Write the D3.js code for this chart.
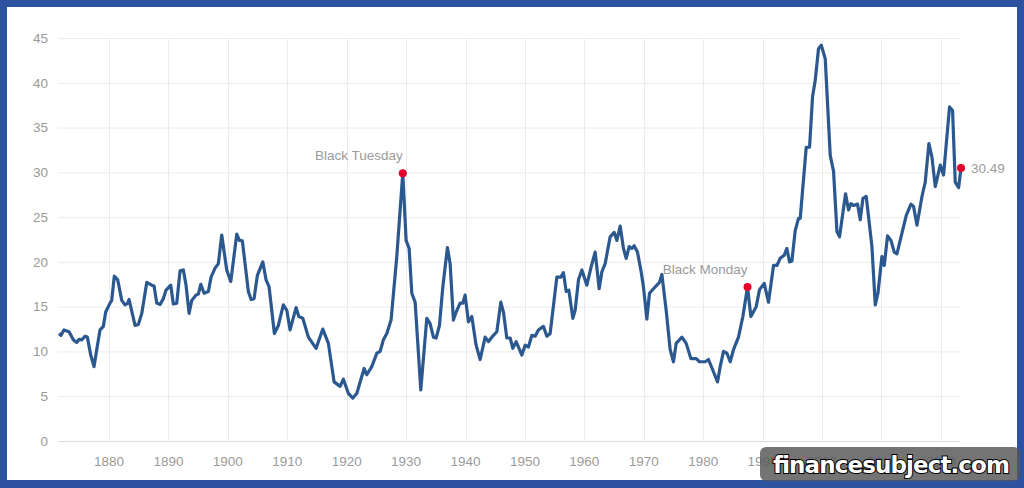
<!DOCTYPE html>
<html>
<head>
<meta charset="utf-8">
<script src="https://cdn.jsdelivr.net/npm/d3@7"></script>
<style>
  body { margin: 0; background: #2c52a0; }
  svg { display: block; }
</style>
</head>
<body>
<div id="chart"></div>
<script>
// Data
var years = [1871.58,1871.92,1872.42,1873.27,1873.99,1874.56,1874.95,1875.40,1875.96,1876.35,1876.92,1877.47,1877.93,1878.48,1879.04,1879.44,1880.17,1880.45,1880.89,1881.46,1882.14,1882.69,1883.15,1883.37,1884.38,1884.93,1885.51,1886.35,1887.19,1887.58,1888.03,1888.59,1889.14,1889.60,1890.39,1890.82,1891.40,1891.95,1892.51,1892.96,1893.47,1893.92,1894.65,1895.03,1895.44,1895.99,1896.72,1897.17,1897.85,1898.40,1898.97,1899.81,1900.49,1901.50,1901.94,1902.44,1903.45,1903.91,1904.41,1904.97,1905.88,1906.43,1906.94,1907.83,1908.50,1909.34,1909.92,1910.47,1911.48,1911.94,1912.61,1913.55,1914.85,1915.98,1916.92,1917.88,1918.89,1919.44,1920.29,1921.03,1921.70,1922.93,1923.38,1924.22,1925.07,1925.62,1926.18,1926.75,1927.47,1928.43,1929.44,1930.00,1930.51,1930.96,1931.52,1932.47,1933.48,1934.04,1934.60,1935.05,1935.61,1936.18,1936.95,1937.41,1937.96,1938.42,1939.09,1939.55,1939.93,1940.49,1941.06,1941.78,1942.46,1943.30,1943.86,1944.70,1945.27,1945.94,1946.38,1946.95,1947.51,1947.96,1948.52,1949.48,1950.03,1950.59,1951.16,1951.72,1952.27,1953.11,1953.69,1954.24,1955.37,1956.04,1956.48,1956.94,1957.39,1958.06,1958.45,1959.01,1959.58,1960.42,1961.09,1961.82,1962.49,1962.95,1963.50,1964.34,1965.02,1965.47,1966.03,1966.58,1967.04,1967.54,1967.99,1968.38,1968.94,1969.56,1969.95,1970.52,1970.96,1971.63,1972.21,1972.64,1973.05,1973.77,1974.44,1975.00,1975.45,1976.41,1977.14,1977.93,1978.82,1979.38,1980.34,1980.89,1981.63,1982.41,1982.86,1983.42,1983.99,1984.55,1985.10,1985.94,1986.68,1987.46,1988.03,1988.92,1989.48,1990.27,1990.99,1991.84,1992.41,1992.96,1993.64,1994.09,1994.53,1994.93,1995.49,1996.04,1996.33,1997.34,1997.90,1998.40,1998.86,1999.41,1999.87,2000.54,2001.38,2001.94,2002.51,2002.95,2003.96,2004.46,2004.87,2005.30,2005.98,2006.43,2006.89,2007.44,2008.40,2008.96,2009.41,2010.08,2010.47,2011.03,2011.60,2012.15,2012.61,2013.45,2014.18,2014.97,2015.40,2015.98,2016.82,2017.37,2017.99,2018.50,2019.06,2019.90,2020.45,2021.46,2021.97,2022.42,2022.99,2023.39];
var cape = [12.0,11.8,12.4,12.2,11.3,11.0,11.35,11.3,11.7,11.6,9.6,8.3,10.2,12.4,12.8,14.4,15.4,15.7,18.4,18.0,15.7,15.2,15.4,15.8,12.9,13.0,14.25,17.7,17.4,17.3,15.4,15.25,15.9,16.85,17.4,15.3,15.4,19.0,19.1,17.4,14.25,15.7,16.3,16.4,17.5,16.5,16.7,18.3,19.3,19.8,23.0,19.1,17.8,23.1,22.4,22.35,16.7,15.8,15.9,18.5,20.0,18.0,17.2,12.0,12.9,15.2,14.6,12.4,14.9,13.9,13.7,11.6,10.35,12.5,10.9,6.6,6.1,6.9,5.3,4.8,5.3,8.1,7.4,8.3,9.8,10.0,11.3,12.0,13.5,20.6,29.9,22.4,21.5,16.5,15.5,5.7,13.7,13.1,11.6,11.5,12.9,17.2,21.6,19.8,13.5,14.4,15.4,15.4,16.3,13.3,13.9,10.7,9.1,11.6,11.1,11.8,12.2,15.5,14.4,11.5,11.5,10.35,11.1,9.6,10.7,10.5,11.8,11.7,12.4,12.8,11.7,12.0,18.3,18.3,18.8,16.7,16.85,13.7,14.6,18.0,19.1,17.4,19.3,21.1,17.0,18.9,19.8,22.8,23.3,22.4,24.0,21.5,20.4,21.7,21.5,21.8,21.1,18.9,17.2,13.6,16.5,17.0,17.4,17.7,18.6,14.6,10.2,8.85,10.9,11.6,10.9,9.2,9.2,8.85,8.85,9.1,7.9,6.6,8.3,10.0,9.8,8.85,10.2,11.6,13.9,17.2,13.9,15.0,16.9,17.6,15.5,19.6,19.6,20.4,20.75,21.5,20.0,20.1,23.5,24.85,24.85,32.8,32.8,38.4,40.3,43.8,44.2,42.7,31.9,30.1,23.4,22.8,27.6,25.8,26.5,26.3,26.45,24.7,27.1,27.3,21.7,15.2,16.5,20.6,19.6,22.9,22.4,21.1,20.9,23.2,25.2,26.45,26.2,24.1,27.3,28.9,33.2,31.7,28.4,30.8,29.7,37.3,36.9,28.9,28.3,30.49];

var yTicks = [0, 5, 10, 15, 20, 25, 30, 35, 40, 45];
var xTicks = [1880, 1890, 1900, 1910, 1920, 1930, 1940, 1950, 1960, 1970, 1980, 1990, 2000, 2010, 2020];

// marked points: year of the point, label text
var markYear = [1929.44, 1987.46, 2023.39];
var markLabel = ["Black Tuesday", "Black Monday", "30.49"];
var markIndex = markYear.map(function (yr) { return years.indexOf(yr); });

var width = 1024;
var height = 488;
var font = "'Liberation Sans', Arial, sans-serif";

var x = d3.scaleLinear().domain([1871.58, 2023.39]).range([59, 961]);
var y = d3.scaleLinear().domain([0, 45]).range([441, 38]);

var svg = d3.select('#chart')
    .append('svg')
    .attr('width', width)
    .attr('height', height);

// white panel inside the blue frame
svg.append('rect')
    .attr('x', 7).attr('y', 7)
    .attr('width', 1010).attr('height', 473)
    .attr('fill', '#fff');

// grid
svg.append('g').selectAll('line')
    .data(yTicks)
    .enter().append('line')
    .attr('x1', 58).attr('x2', 960)
    .attr('y1', function (d) { return y(d) + 0.5; })
    .attr('y2', function (d) { return y(d) + 0.5; })
    .attr('stroke', function (d) { return d === 0 ? '#dcdcdc' : '#ececec'; })
    .attr('stroke-width', 1);

svg.append('g').selectAll('line')
    .data(xTicks)
    .enter().append('line')
    .attr('x1', function (d) { return Math.round(x(d)) + 0.5; })
    .attr('x2', function (d) { return Math.round(x(d)) + 0.5; })
    .attr('y1', 38).attr('y2', 441)
    .attr('stroke', '#ececec')
    .attr('stroke-width', 1);

// tick labels
svg.append('g').selectAll('text')
    .data(yTicks)
    .enter().append('text')
    .attr('x', 48)
    .attr('y', function (d) { return y(d); })
    .attr('dy', '0.35em')
    .attr('text-anchor', 'end')
    .style('font-family', font)
    .style('font-size', '13.5px')
    .style('fill', '#9a9a9a')
    .text(function (d) { return d; });

svg.append('g').selectAll('text')
    .data(xTicks)
    .enter().append('text')
    .attr('x', function (d) { return x(d); })
    .attr('y', 466)
    .attr('text-anchor', 'middle')
    .style('font-family', font)
    .style('font-size', '13.5px')
    .style('fill', '#9a9a9a')
    .text(function (d) { return d; });

// the line
var line = d3.line()
    .x(function (d) { return x(years[d]); })
    .y(function (d) { return y(cape[d]); });

svg.append('path')
    .datum(d3.range(years.length))
    .attr('d', line)
    .attr('fill', 'none')
    .attr('stroke', '#2c5890')
    .attr('stroke-width', 3.2)
    .attr('stroke-linejoin', 'round');

// marked points
svg.append('g').selectAll('circle')
    .data(markIndex)
    .enter().append('circle')
    .attr('cx', function (d) { return x(years[d]); })
    .attr('cy', function (d) { return y(cape[d]); })
    .attr('r', 4)
    .attr('fill', '#e4002b');

svg.append('g').selectAll('text')
    .data(markIndex)
    .enter().append('text')
    .attr('x', function (d, i) { return i < 2 ? x(years[d]) : x(years[d]) + 10; })
    .attr('y', function (d, i) { return i < 2 ? y(cape[d]) - 13 : y(cape[d]); })
    .attr('dy', function (d, i) { return i < 2 ? 0 : '0.35em'; })
    .attr('text-anchor', function (d, i) { return i < 2 ? 'end' : 'start'; })
    .style('font-family', font)
    .style('font-size', '13.5px')
    .style('fill', '#9a9a9a')
    .text(function (d, i) { return markLabel[i]; });

// watermark (sits over the last x labels, as in the original)
svg.append('rect')
    .attr('x', 760).attr('y', 447)
    .attr('width', 260).attr('height', 34)
    .attr('rx', 6)
    .attr('fill', 'rgba(85,85,85,0.82)');

svg.append('text')
    .attr('x', 891).attr('y', 473)
    .attr('text-anchor', 'middle')
    .attr('textLength', 237)
    .style('font-family', "'DejaVu Sans', sans-serif")
    .style('font-weight', 'bold')
    .style('font-size', '23px')
    .style('fill', '#fff')
    .style('stroke', '#000')
    .style('stroke-width', 2)
    .style('paint-order', 'stroke')
    .text('financesubject.com');
</script>
</body>
</html>
